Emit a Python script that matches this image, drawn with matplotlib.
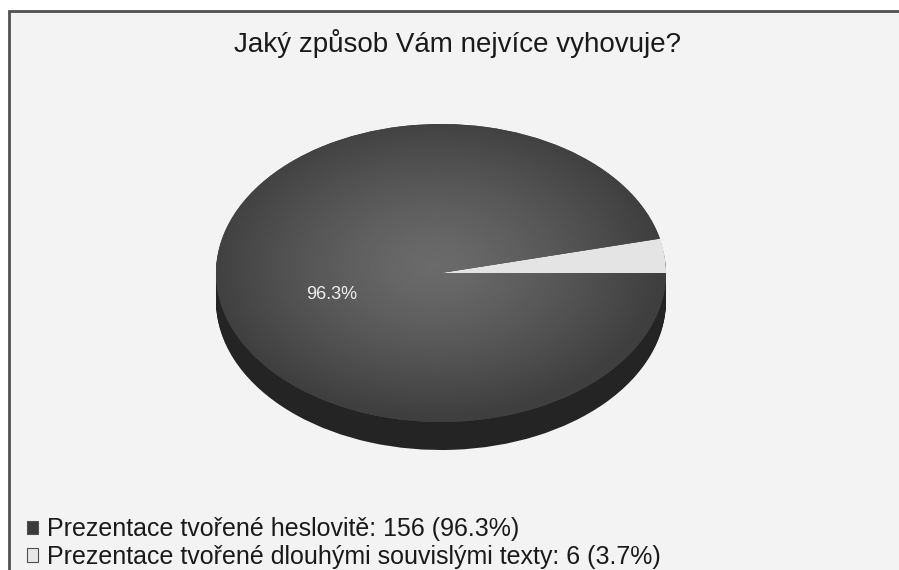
import numpy as np
import matplotlib.pyplot as plt
from matplotlib.patches import Rectangle, Patch

plt.rcParams['font.family'] = ['Liberation Sans', 'DejaVu Sans']

title = "Jaký způsob Vám nejvíce vyhovuje?"
labels = ["Prezentace tvořené heslovitě", "Prezentace tvořené dlouhými souvislými texty"]
counts = [156, 6]
colors = ["#474747", "#e4e4e4"]
legend_colors = ["#3a3a3a", "#e8e8e8"]
side_color = "#242424"

W, H = 899, 570
fig = plt.figure(figsize=(W / 100, H / 100), dpi=100)
fig.patch.set_facecolor("white")

# background panel with frame
bg = fig.add_axes([0, 0, 1, 1])
bg.set_xlim(0, W)
bg.set_ylim(H, 0)
bg.axis("off")
bg.add_patch(Rectangle((9, 11), W + 20, H + 20, facecolor="#f3f3f3",
                       edgecolor="#505050", lw=2))
bg.text(457, 43, title, ha="center", va="center", fontsize=20, color="#1a1a1a")

# pie geometry in pixels
cx, cy, rx, ry, depth = 441, 273, 225, 149, 28
ax = fig.add_axes([(cx - rx) / W, (H - (cy + ry + depth)) / H,
                   2 * rx / W, (2 * ry + depth) / H])
d = depth / ry

# side of the 3d pie: stacked layers
n_layers = 30
for dy in np.linspace(d, 0.01, n_layers):
    ax.pie(counts, colors=[side_color, side_color], startangle=0,
           counterclock=False, center=(0, -dy), wedgeprops=dict(linewidth=0))

total = sum(counts)
wedges, texts, autotexts = ax.pie(
    counts, colors=colors, startangle=0, counterclock=False,
    autopct=lambda p: f"{p:.1f}%" if p > 50 else "",
    pctdistance=0.49, textprops=dict(color="#eeeeee", fontsize=13),
    wedgeprops=dict(linewidth=0))
x0, y0 = autotexts[0].get_position()
autotexts[0].set_position((x0, y0 - 0.09))

# radial shading on the big slice
gx, gy = np.meshgrid(np.linspace(-1, 1, 300), np.linspace(-1, 1, 300))
r = np.clip(np.hypot(gx + 0.03, gy - 0.05), 0, 1)
shade = 0.42 - 0.17 * r ** 1.3
im = ax.imshow(shade, cmap="gray", vmin=0, vmax=1, extent=(-1, 1, -1, 1),
               origin="lower", zorder=1.5, interpolation="bilinear")
im.set_clip_path(wedges[0])
autotexts[0].set_zorder(3)

ax.set_aspect("auto")
ax.set_xlim(-1, 1)
ax.set_ylim(-1 - d, 1)
ax.axis("off")

handles = [Patch(facecolor=c, edgecolor="#505050", lw=0.8) for c in legend_colors]
leg_labels = [f"{l}: {v} ({v / total * 100:.1f}%)" for l, v in zip(labels, counts)]
fig.legend(handles, leg_labels, loc="lower left", bbox_to_anchor=(27 / W, 1 / H),
           frameon=False, fontsize=18, handlelength=0.44, handleheight=0.44,
           handletextpad=0.36, labelspacing=0.15, borderaxespad=0, borderpad=0,
           labelcolor="#1a1a1a")

fig.savefig("out.png", dpi=100, facecolor="white")
